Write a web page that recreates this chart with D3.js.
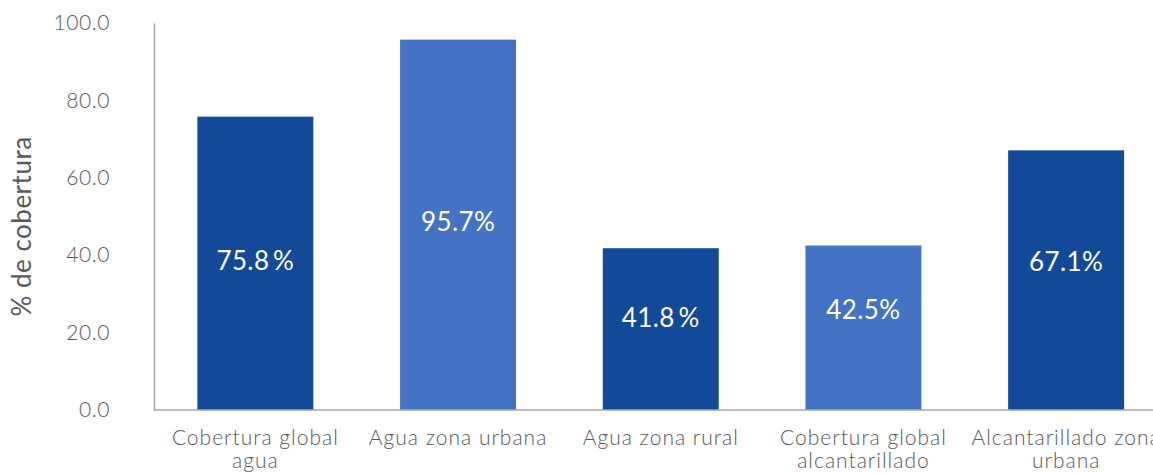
<!DOCTYPE html>
<html>
<head>
<meta charset="utf-8">
<script src="https://cdn.jsdelivr.net/npm/d3@7"></script>
<style>
  body { margin: 0; background: #fff; }
  text { font-family: Lato, "Open Sans", sans-serif; }
</style>
</head>
<body>
<div id="chart"></div>
<script>
/* data */
const categories = ["Cobertura global\nagua", "Agua zona urbana", "Agua zona rural",
                    "Cobertura global\nalcantarillado", "Alcantarillado zona\nurbana"];
const values = [75.8, 95.7, 41.8, 42.5, 67.1];
const labels = ["75.8\u2009%", "95.7%", "41.8\u2009%", "42.5%", "67.1%"];
const labelAt = [38.5, 48.6, 23.8, 25.8, 38.2];   // where the value label sits, in axis units
const barColors = ["#124a99", "#4473c5", "#124a99", "#4473c5", "#124a99"];
const yTicks = [0, 20, 40, 60, 80, 100];

const W = 1153, H = 473;
const plot = { left: 154, right: 1167.5, top: 23, bottom: 410 };

const svg = d3.select("#chart").append("svg")
    .attr("width", W).attr("height", H);

/* scales */
const x = d3.scaleBand().domain(d3.range(categories.length))
    .range([plot.left, plot.right])
    .paddingInner(0.428).paddingOuter(0.214);
const y = d3.scaleLinear().domain([0, 100]).range([plot.bottom, plot.top]);

/* y axis: line + labels, no ticks */
const yAxis = svg.append("g")
    .attr("transform", `translate(${plot.left},0)`)
    .call(d3.axisLeft(y).tickValues(yTicks).tickFormat(d3.format(".1f")).tickSize(0).tickPadding(44));
yAxis.select(".domain").attr("stroke", "#a6a6a6").attr("stroke-width", 1.5);
yAxis.selectAll("text")
    .attr("fill", "#595959")
    .style("font-size", "21px")
    .style("font-weight", 300)
    .style("letter-spacing", "0.6px")
    .style("font-family", "Lato, sans-serif");

/* bars */
svg.selectAll("rect.bar")
    .data(values)
    .enter()
    .append("rect")
    .attr("class", "bar")
    .attr("x", (d, i) => x(i))
    .attr("y", d => y(d))
    .attr("width", x.bandwidth())
    .attr("height", d => y(0) - y(d))
    .attr("fill", (d, i) => barColors[i]);

/* x axis line */
svg.append("line")
    .attr("x1", plot.left).attr("x2", W)
    .attr("y1", y(0)).attr("y2", y(0))
    .attr("stroke", "#a6a6a6").attr("stroke-width", 1.5);

/* value labels */
svg.selectAll("text.val")
    .data(labels)
    .enter()
    .append("text")
    .attr("class", "val")
    .attr("x", (d, i) => x(i) + x.bandwidth() / 2)
    .attr("y", (d, i) => y(labelAt[i]))
    .attr("dy", "0.35em")
    .attr("text-anchor", "middle")
    .attr("fill", "#fff")
    .style("font-size", "26px")
    .style("letter-spacing", "0.4px")
    .text(d => d);

/* category labels */
const cat = svg.selectAll("text.cat")
    .data(categories)
    .enter()
    .append("text")
    .attr("class", "cat")
    .attr("text-anchor", "middle")
    .attr("fill", "#595959")
    .style("font-size", "21px")
    .style("font-weight", 300)
    .style("letter-spacing", "1px");
cat.each(function(d, i) {
    const t = d3.select(this);
    d.split("\n").forEach((line, k) => {
        t.append("tspan")
            .attr("x", x(i) + x.bandwidth() / 2)
            .attr("y", 445 + k * 23)
            .text(line);
    });
});

/* y axis title */
svg.append("text")
    .attr("transform", `translate(31,${(plot.top + plot.bottom) / 2 + 10}) rotate(-90)`)
    .attr("text-anchor", "middle")
    .attr("fill", "#595959")
    .style("font-size", "26px")
    .style("letter-spacing", "0.5px")
    .text("% de cobertura");
</script>
</body>
</html>
